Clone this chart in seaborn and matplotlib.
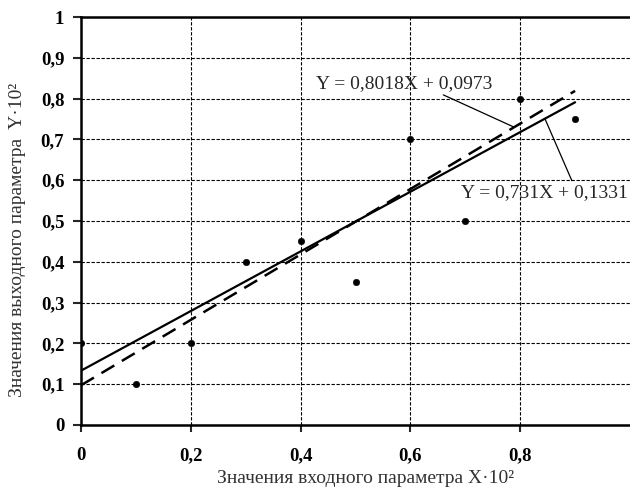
import numpy as np
import pandas as pd
import matplotlib
matplotlib.use("Agg")
import matplotlib.pyplot as plt
import seaborn as sns

# experimental points
x_pts = [0.0, 0.1, 0.2, 0.3, 0.4, 0.5, 0.6, 0.7, 0.8, 0.9]
y_pts = [0.2, 0.1, 0.2, 0.4, 0.45, 0.35, 0.7, 0.5, 0.8, 0.75]

# regression lines: slope, intercept
fit_solid = (0.731, 0.1331)
fit_dashed = (0.8018, 0.0973)
fit_x = [0.0, 0.9]

label_solid = "Y = 0,731X + 0,1331"
label_dashed = "Y = 0,8018X + 0,0973"

x_ticks = [0, 0.2, 0.4, 0.6, 0.8]
x_ticklabels = ["0", "0,2", "0,4", "0,6", "0,8"]
y_ticks = [0, 0.1, 0.2, 0.3, 0.4, 0.5, 0.6, 0.7, 0.8, 0.9, 1.0]
y_ticklabels = ["0", "0,1", "0,2", "0,3", "0,4", "0,5", "0,6", "0,7", "0,8", "0,9", "1"]

sns.set_theme(style="ticks")
plt.rcParams["font.family"] = ["Liberation Serif", "DejaVu Serif"]

fig = plt.figure(figsize=(6.3, 4.9), dpi=100)
ax = fig.add_axes([0.1286, 0.1327, 0.8714, 0.8326])

df_pts = pd.DataFrame({"x": x_pts, "y": y_pts})
lines = pd.DataFrame({
    "x": fit_x,
    "solid": [fit_solid[0] * v + fit_solid[1] for v in fit_x],
    "dashed": [fit_dashed[0] * v + fit_dashed[1] for v in fit_x],
})

sns.lineplot(data=lines, x="x", y="solid", ax=ax, color="black", linewidth=1.6)
sns.lineplot(data=lines, x="x", y="dashed", ax=ax, color="black", linewidth=1.8,
             linestyle=(0, (6, 3.5)))
sns.scatterplot(data=df_pts, x="x", y="y", ax=ax, color="black", s=22,
                edgecolor="black", zorder=5)

ax.set_xlim(0, 1.0)
ax.set_ylim(0, 1.0)
ax.set_xticks(x_ticks)
ax.set_xticklabels(x_ticklabels)
ax.set_yticks(y_ticks)
ax.set_yticklabels(y_ticklabels)

for lab in ax.get_xticklabels() + ax.get_yticklabels():
    lab.set_fontweight("bold")
    lab.set_fontsize(13.5)
    lab.set_color("black")

ax.tick_params(axis="x", direction="out", length=5, width=1.5, pad=11)
ax.tick_params(axis="y", direction="out", length=6, width=1.5, pad=6)

ax.grid(True, color="black", linestyle=(0, (3, 1.5)), linewidth=0.8)
ax.set_axisbelow(True)

for side in ["left", "top", "bottom"]:
    ax.spines[side].set_linewidth(1.8)
    ax.spines[side].set_color("black")
ax.spines["right"].set_visible(False)

ax.set_xlabel("Значения входного параметра X·10²", fontsize=14, color="#333333")
ax.set_ylabel("Значения выходного параметра  Y·10²", fontsize=14, color="#333333")
ax.xaxis.set_label_coords(0.519, -0.11)
ax.yaxis.set_label_coords(-0.1, 0.453)

# annotations with leader lines
ax.annotate(label_dashed, xy=(0.789, fit_dashed[0] * 0.789 + fit_dashed[1]),
            xytext=(0.589, 0.838), fontsize=14, ha="center", va="center",
            arrowprops=dict(arrowstyle="-", color="black", lw=0.9,
                            shrinkA=0, shrinkB=0, relpos=(0.68, 0.0)))
ax.annotate(label_solid, xy=(0.845, fit_solid[0] * 0.845 + fit_solid[1]),
            xytext=(0.845, 0.57), fontsize=14, ha="center", va="center",
            arrowprops=dict(arrowstyle="-", color="black", lw=0.9,
                            shrinkA=0, shrinkB=0, relpos=(0.67, 1.0)))

fig.savefig("out.png", dpi=100)
